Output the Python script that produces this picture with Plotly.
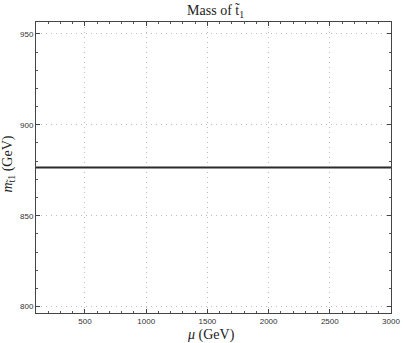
import plotly.graph_objects as go

# mu scan (GeV) and resulting stop mass (GeV)
mu = [100, 500, 1000, 1500, 2000, 2500, 3000]
m_stop1 = [876.5, 876.5, 876.5, 876.5, 876.5, 876.5, 876.5]

x_ticks = [500, 1000, 1500, 2000, 2500, 3000]
y_ticks = [800, 850, 900, 950]

fig = go.Figure()
fig.add_trace(go.Scatter(x=mu, y=m_stop1, mode="lines",
                         line=dict(color="#2a2a2a", width=2), showlegend=False,
                         hoverinfo="skip"))

serif = "Liberation Serif, DejaVu Serif, serif"
sans = "Liberation Sans, DejaVu Sans, sans-serif"

fig.update_layout(
    width=403, height=343,
    margin=dict(l=36, r=12, t=22, b=30, autoexpand=False),
    paper_bgcolor="white", plot_bgcolor="white",
    title=dict(text="Mass of t̃<sub>1</sub>", x=0.535, xanchor="center", y=0.985, yanchor="top",
               font=dict(family=serif, size=14, color="#222")),
    font=dict(family=sans, size=8, color="#333"),
)
fig.update_xaxes(
    range=[100, 3000], tickvals=x_ticks, ticks="inside", ticklen=4,
    minor=dict(dtick=100, ticks="inside", ticklen=2, tickcolor="#555", showgrid=False),
    showline=True, linecolor="#444", linewidth=1, mirror="ticks", automargin=False,
    showgrid=True, gridcolor="#bdbdbd", griddash="1px,4px", gridwidth=1,
    zeroline=False, tickfont=dict(size=8),
)
fig.update_yaxes(
    range=[796.5, 956.5], tickvals=y_ticks, ticks="inside", ticklen=4,
    minor=dict(dtick=10, ticks="inside", ticklen=2, tickcolor="#555", showgrid=False),
    showline=True, linecolor="#444", linewidth=1, mirror="ticks", automargin=False,
    showgrid=True, gridcolor="#bdbdbd", griddash="1px,4px", gridwidth=1,
    zeroline=False, tickfont=dict(size=8),
)

# axis titles placed by hand, they sit close to the tick labels
fig.add_annotation(text="<i>μ</i> (GeV)", xref="paper", yref="paper", x=0.493, y=-0.074,
                   showarrow=False, xanchor="center", yanchor="middle",
                   font=dict(family=serif, size=14, color="#222"))
fig.add_annotation(text="<i>m</i><sub>t̃1</sub> (GeV)", xref="paper", yref="paper", x=-0.076, y=0.51,
                   showarrow=False, textangle=-90, xanchor="center", yanchor="middle",
                   font=dict(family=serif, size=14, color="#222"))

# page body has an 8px default margin, drop it so the figure sits at 0,0
fig.write_html("out.html", config={"displayModeBar": False},
               post_script="document.body.style.margin='0';")
